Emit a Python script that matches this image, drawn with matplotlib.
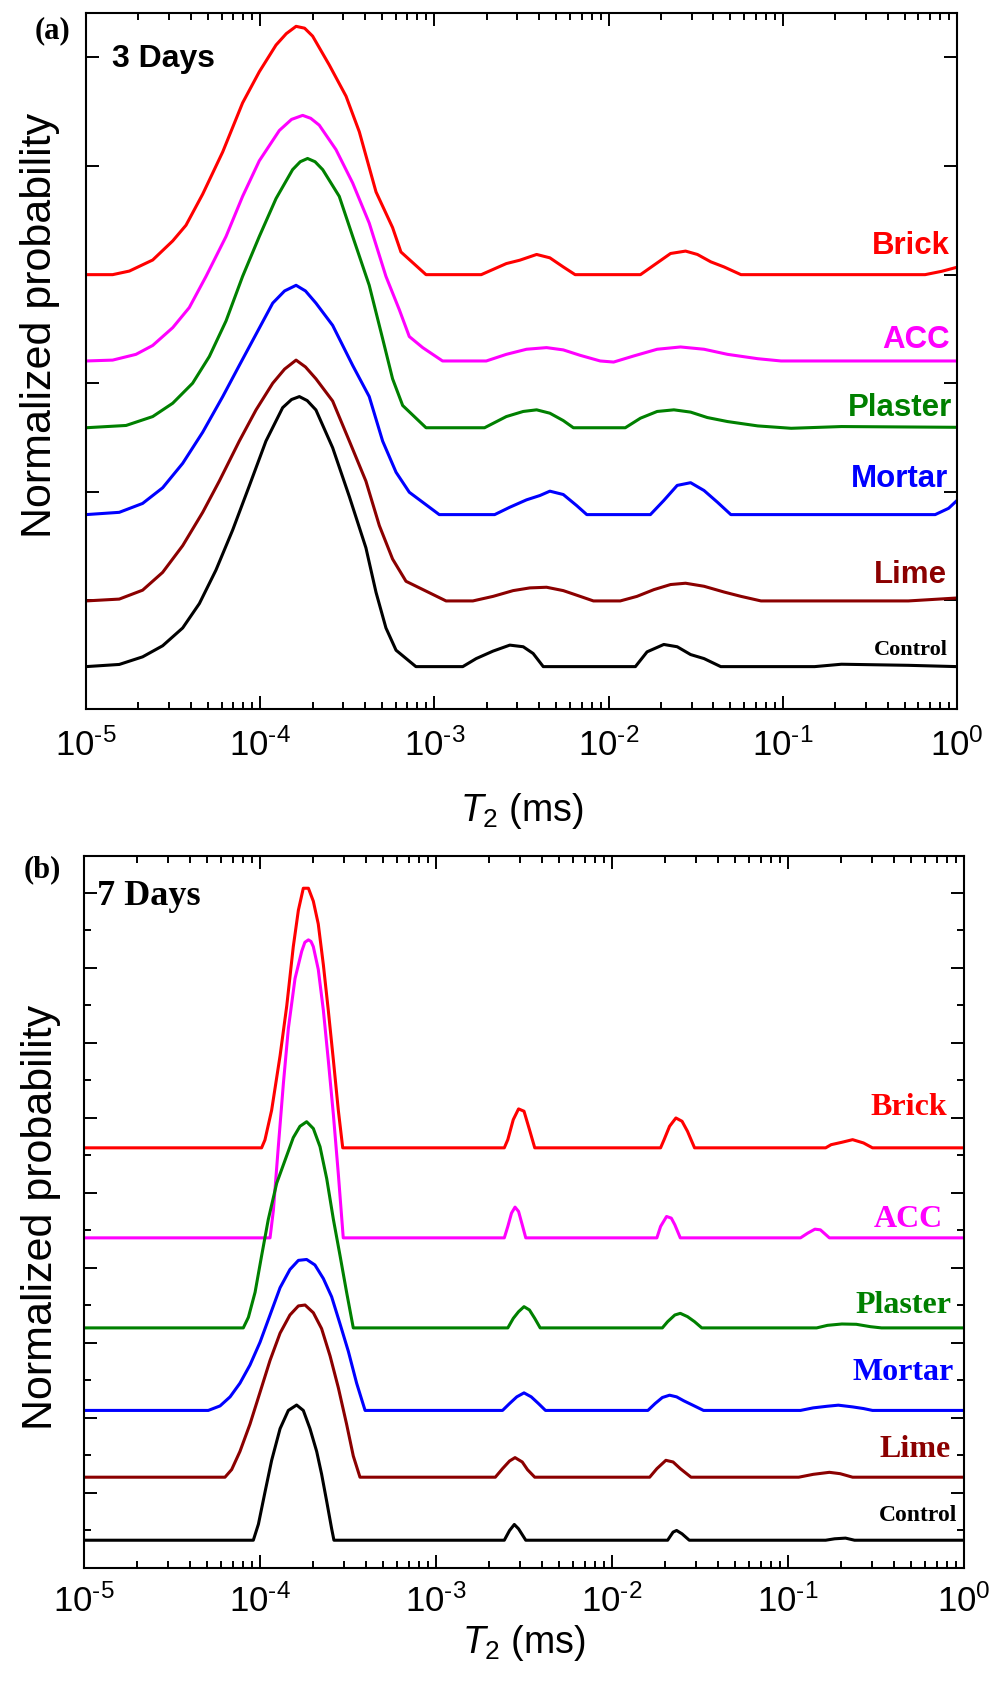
"""
T2 distribution curves, 3 days and 7 days
"""
import numpy as np
import matplotlib
matplotlib.use('Agg')
import matplotlib.pyplot as plt
from matplotlib.ticker import LogLocator, MultipleLocator, NullFormatter, NullLocator, FuncFormatter

plt.rcParams['font.family'] = 'Liberation Sans'
plt.rcParams['mathtext.fontset'] = 'custom'
plt.rcParams['mathtext.rm'] = 'Liberation Sans'
plt.rcParams['mathtext.it'] = 'Liberation Sans:italic'
plt.rcParams['mathtext.bf'] = 'Liberation Sans:bold'

materials = ['Brick', 'ACC', 'Plaster', 'Mortar', 'Lime', 'Control']
colors = ['#ff0000', '#ff00ff', '#008000', '#0000ff', '#8b0000', '#000000']

# ---- 3 days: log10(T2 / ms) and stacked probability ----
brick_3d_logt = [-5.0, -4.847, -4.751, -4.617, -4.502, -4.426, -4.330, -4.215, -4.101, -4.005,
                 -3.909, -3.85, -3.794, -3.745, -3.699, -3.603, -3.507, -3.431, -3.335, -3.240,
                 -3.192, -3.048, -2.731, -2.587, -2.510, -2.413, -2.337, -2.260, -2.192, -1.817,
                 -1.740, -1.644, -1.558, -1.490, -1.413, -1.337, -1.240, -0.183, -0.087, 0.0]
brick_3d_y = [4.0, 4.0, 4.033, 4.135, 4.311, 4.455, 4.742, 5.131, 5.582, 5.869,
              6.115, 6.22, 6.287, 6.27, 6.197, 5.930, 5.643, 5.316, 4.762, 4.434,
              4.209, 4.0, 4.0, 4.102, 4.133, 4.186, 4.155, 4.071, 4.0, 4.0,
              4.087, 4.195, 4.217, 4.186, 4.118, 4.071, 4.0, 4.0, 4.031, 4.068]

acc_3d_logt = [-5.0, -4.847, -4.713, -4.617, -4.502, -4.407, -4.311, -4.196, -4.101, -4.005,
               -3.890, -3.82, -3.756, -3.71, -3.661, -3.565, -3.469, -3.374, -3.278, -3.201,
               -3.144, -3.067, -2.953, -2.702, -2.587, -2.471, -2.356, -2.260, -2.163, -2.048,
               -1.971, -1.856, -1.721, -1.587, -1.452, -1.317, -1.144, -1.010, 0.0]
acc_3d_y = [3.205, 3.213, 3.266, 3.348, 3.512, 3.697, 3.984, 4.352, 4.721, 5.049,
            5.328, 5.43, 5.467, 5.44, 5.377, 5.152, 4.844, 4.475, 3.984, 3.676,
            3.430, 3.328, 3.205, 3.205, 3.266, 3.313, 3.328, 3.307, 3.257, 3.205,
            3.195, 3.251, 3.313, 3.334, 3.313, 3.266, 3.226, 3.205, 3.205]

plaster_3d_logt = [-5.0, -4.770, -4.617, -4.502, -4.388, -4.292, -4.196, -4.101, -4.005, -3.909,
                   -3.814, -3.77, -3.728, -3.685, -3.641, -3.546, -3.469, -3.374, -3.297, -3.240,
                   -3.182, -3.048, -2.712, -2.587, -2.490, -2.413, -2.337, -2.260, -2.202, -1.904,
                   -1.817, -1.721, -1.625, -1.529, -1.433, -1.317, -1.144, -0.952, -0.663, 0.0]
plaster_3d_y = [2.590, 2.611, 2.693, 2.816, 3.0, 3.246, 3.574, 3.984, 4.352, 4.701,
                4.967, 5.04, 5.070, 5.04, 4.967, 4.721, 4.352, 3.902, 3.410, 3.041,
                2.795, 2.590, 2.590, 2.693, 2.740, 2.755, 2.724, 2.656, 2.590, 2.590,
                2.678, 2.740, 2.755, 2.734, 2.684, 2.647, 2.607, 2.585, 2.601, 2.594]

mortar_3d_logt = [-5.0, -4.809, -4.675, -4.560, -4.445, -4.330, -4.215, -4.120, -4.024, -3.928,
                  -3.86, -3.794, -3.74, -3.680, -3.584, -3.469, -3.374, -3.297, -3.220, -3.144,
                  -2.972, -2.654, -2.567, -2.471, -2.394, -2.337, -2.260, -2.183, -2.125, -1.760,
                  -1.683, -1.606, -1.529, -1.452, -1.375, -1.298, -0.125, -0.048, 0.0]
mortar_3d_y = [1.79, 1.811, 1.893, 2.037, 2.262, 2.549, 2.877, 3.164, 3.451, 3.738,
               3.85, 3.902, 3.85, 3.738, 3.533, 3.164, 2.877, 2.467, 2.180, 1.996,
               1.79, 1.79, 1.858, 1.926, 1.966, 2.006, 1.975, 1.873, 1.79, 1.79,
               1.920, 2.059, 2.084, 2.012, 1.904, 1.79, 1.79, 1.848, 1.920]

lime_3d_logt = [-5.0, -4.809, -4.675, -4.560, -4.445, -4.330, -4.235, -4.120, -4.024, -3.928,
                -3.86, -3.794, -3.74, -3.680, -3.584, -3.488, -3.393, -3.316, -3.240, -3.163,
                -2.933, -2.779, -2.663, -2.548, -2.452, -2.356, -2.260, -2.163, -2.087, -1.933,
                -1.837, -1.740, -1.644, -1.558, -1.452, -1.337, -1.240, -1.125, -0.279, 0.0]
lime_3d_y = [0.995, 1.012, 1.094, 1.258, 1.504, 1.811, 2.098, 2.467, 2.754, 3.0,
             3.13, 3.213, 3.15, 3.041, 2.836, 2.467, 2.098, 1.689, 1.381, 1.176,
             0.995, 0.995, 1.037, 1.090, 1.115, 1.121, 1.090, 1.037, 0.995, 0.995,
             1.037, 1.099, 1.146, 1.158, 1.130, 1.077, 1.037, 0.995, 0.995, 1.022]

control_3d_logt = [-5.0, -4.809, -4.675, -4.560, -4.445, -4.349, -4.254, -4.158, -4.062, -3.967,
                   -3.871, -3.82, -3.775, -3.73, -3.680, -3.584, -3.488, -3.393, -3.335, -3.278,
                   -3.220, -3.106, -2.837, -2.760, -2.663, -2.567, -2.490, -2.433, -2.375, -1.846,
                   -1.779, -1.683, -1.606, -1.529, -1.452, -1.356, -0.817, -0.663, -0.279, 0.0]
control_3d_y = [0.39, 0.410, 0.480, 0.582, 0.746, 0.971, 1.279, 1.648, 2.057, 2.467,
                2.775, 2.85, 2.877, 2.84, 2.754, 2.406, 1.955, 1.484, 1.074, 0.746,
                0.541, 0.39, 0.39, 0.464, 0.533, 0.588, 0.573, 0.511, 0.39, 0.39,
                0.526, 0.594, 0.573, 0.501, 0.464, 0.39, 0.39, 0.412, 0.402, 0.39]

# ---- 7 days ----
brick_7d_logt = [-5.0, -3.991, -3.972, -3.934, -3.886, -3.848, -3.811, -3.782, -3.754, -3.725,
                 -3.697, -3.669, -3.640, -3.612, -3.583, -3.555, -3.530, -2.612, -2.592, -2.561,
                 -2.531, -2.500, -2.469, -2.439, -1.724, -1.704, -1.673, -1.637, -1.602, -1.571,
                 -1.531, -0.786, -0.755, -0.694, -0.633, -0.571, -0.520, 0.0]
brick_7d_y = [5.6, 5.6, 5.705, 6.10, 6.827, 7.493, 8.28, 8.767, 9.06, 9.06,
              8.887, 8.584, 8.039, 7.433, 6.767, 6.10, 5.6, 5.6, 5.709, 5.976,
              6.119, 6.088, 5.843, 5.6, 5.6, 5.709, 5.887, 5.998, 5.954, 5.820,
              5.6, 5.6, 5.642, 5.674, 5.709, 5.665, 5.6, 5.6]

acc_7d_logt = [-5.0, -3.943, -3.924, -3.896, -3.867, -3.839, -3.801, -3.763, -3.745, -3.725,
               -3.71, -3.697, -3.669, -3.640, -3.612, -3.583, -3.555, -3.527, -2.612, -2.592,
               -2.571, -2.551, -2.531, -2.510, -2.490, -1.745, -1.724, -1.690, -1.663, -1.643,
               -1.612, -0.929, -0.888, -0.847, -0.816, -0.765, 0.0]
acc_7d_y = [4.40, 4.40, 4.767, 5.615, 6.463, 7.19, 7.857, 8.22, 8.34, 8.372,
            8.35, 8.281, 7.979, 7.433, 6.767, 6.039, 5.251, 4.40, 4.40, 4.552,
            4.730, 4.810, 4.752, 4.574, 4.40, 4.40, 4.552, 4.685, 4.663, 4.574,
            4.40, 4.40, 4.463, 4.516, 4.507, 4.40, 4.40]

plaster_7d_logt = [-5.0, -4.095, -4.066, -4.028, -3.991, -3.953, -3.905, -3.858, -3.811, -3.773,
                   -3.735, -3.697, -3.659, -3.621, -3.583, -3.545, -3.508, -3.470, -2.592, -2.561,
                   -2.531, -2.500, -2.469, -2.439, -2.408, -1.714, -1.684, -1.643, -1.612, -1.571,
                   -1.531, -1.490, -0.837, -0.776, -0.694, -0.612, -0.531, -0.469, 0.0]
plaster_7d_y = [3.2, 3.2, 3.341, 3.675, 4.16, 4.645, 5.13, 5.433, 5.736, 5.887,
                5.948, 5.857, 5.615, 5.19, 4.645, 4.16, 3.675, 3.2, 3.2, 3.327,
                3.416, 3.483, 3.439, 3.327, 3.2, 3.2, 3.283, 3.372, 3.394, 3.350,
                3.283, 3.2, 3.2, 3.234, 3.252, 3.248, 3.216, 3.2, 3.2]

mortar_7d_logt = [-5.0, -4.294, -4.227, -4.170, -4.114, -4.057, -4.0, -3.943, -3.886, -3.830,
                  -3.782, -3.735, -3.688, -3.640, -3.593, -3.545, -3.498, -3.451, -3.403, -2.622,
                  -2.582, -2.541, -2.500, -2.459, -2.418, -2.378, -1.796, -1.755, -1.714, -1.673,
                  -1.633, -1.592, -1.541, -1.480, -0.929, -0.857, -0.776, -0.714, -0.633, -0.571,
                  -0.520, 0.0]
mortar_7d_y = [2.10, 2.10, 2.16, 2.281, 2.463, 2.705, 3.008, 3.372, 3.736, 3.978,
               4.10, 4.112, 4.039, 3.857, 3.615, 3.251, 2.887, 2.463, 2.10, 2.10,
               2.192, 2.281, 2.334, 2.281, 2.192, 2.10, 2.10, 2.192, 2.272, 2.303,
               2.281, 2.228, 2.170, 2.10, 2.10, 2.134, 2.156, 2.170, 2.147, 2.125,
               2.10, 2.10]

lime_7d_logt = [-5.0, -4.199, -4.161, -4.114, -4.057, -4.0, -3.943, -3.886, -3.830, -3.782,
                -3.744, -3.697, -3.650, -3.602, -3.555, -3.508, -3.470, -3.432, -2.663, -2.622,
                -2.582, -2.551, -2.510, -2.480, -2.439, -1.786, -1.745, -1.694, -1.653, -1.612,
                -1.551, -0.939, -0.857, -0.765, -0.704, -0.633, 0.0]
lime_7d_y = [1.21, 1.21, 1.312, 1.553, 1.917, 2.341, 2.767, 3.13, 3.372, 3.493,
             3.505, 3.402, 3.19, 2.827, 2.403, 1.917, 1.493, 1.21, 1.21, 1.324,
             1.426, 1.471, 1.413, 1.310, 1.21, 1.21, 1.324, 1.435, 1.413, 1.324,
             1.21, 1.21, 1.248, 1.275, 1.257, 1.21, 1.21]

control_7d_logt = [-5.0, -4.038, -4.009, -3.972, -3.934, -3.886, -3.839, -3.792, -3.754, -3.716,
                   -3.678, -3.650, -3.621, -3.593, -3.580, -2.612, -2.582, -2.555, -2.531, -2.490,
                   -1.684, -1.653, -1.633, -1.602, -1.561, -0.786, -0.735, -0.673, -0.622, 0.0]
control_7d_y = [0.37, 0.37, 0.584, 1.008, 1.433, 1.857, 2.1, 2.172, 2.1, 1.857,
                1.553, 1.251, 0.887, 0.524, 0.37, 0.37, 0.5, 0.580, 0.522, 0.37,
                0.37, 0.478, 0.5, 0.455, 0.37, 0.37, 0.389, 0.398, 0.37, 0.37]

curves_3d = [(brick_3d_logt, brick_3d_y), (acc_3d_logt, acc_3d_y), (plaster_3d_logt, plaster_3d_y),
             (mortar_3d_logt, mortar_3d_y), (lime_3d_logt, lime_3d_y), (control_3d_logt, control_3d_y)]
curves_7d = [(brick_7d_logt, brick_7d_y), (acc_7d_logt, acc_7d_y), (plaster_7d_logt, plaster_7d_y),
             (mortar_7d_logt, mortar_7d_y), (lime_7d_logt, lime_7d_y), (control_7d_logt, control_7d_y)]

fig = plt.figure(figsize=(9.93, 16.86), dpi=100)
ax_a = fig.add_axes([0.0866, 0.5795, 0.8771, 0.4128])
ax_b = fig.add_axes([0.0846, 0.0700, 0.8862, 0.4223])


def decade_label(v, pos):
    # short hyphen in the exponent, as in the original figure
    n = int(round(np.log10(v)))
    if n < 0:
        return r'$10^{\text{-}%d}$' % (-n)
    return r'$10^{%d}$' % n


def draw_panel(ax, curves, ymax, label_pos, label_font, tick_pad, xlabel_pad):
    for (logt, y), c in zip(curves, colors):
        ax.plot(10.0 ** np.array(logt), y, color=c, lw=2.2, solid_joinstyle='round')

    ax.set_xscale('log')
    ax.set_xlim(1e-5, 1.0)
    ax.set_ylim(0, ymax)
    ax.xaxis.set_major_locator(LogLocator(base=10, numticks=10))
    ax.xaxis.set_minor_locator(LogLocator(base=10, subs=np.arange(2, 10), numticks=10))
    ax.xaxis.set_major_formatter(FuncFormatter(decade_label))
    ax.xaxis.set_minor_formatter(NullFormatter())

    ax.tick_params(which='both', direction='in', top=True, right=True, width=1.4, colors='black')
    ax.tick_params(which='major', length=9.5)
    ax.tick_params(which='minor', length=5)
    ax.tick_params(axis='y', labelleft=False)
    ax.tick_params(axis='x', which='major', labelsize=25, pad=tick_pad)
    for sp in ax.spines.values():
        sp.set_linewidth(1.5)

    ax.set_xlabel(r'$\mathit{T}_{2}$ (ms)', fontsize=27, labelpad=xlabel_pad)

    # material names at the right end of each curve
    for name, c, (xp, yp) in zip(materials, colors, label_pos):
        fam, size = label_font(name)
        ax.text(xp, yp, name, transform=ax.transAxes, ha='right', va='baseline',
                color=c, fontsize=size, fontweight='bold', family=fam)


# panel (a)
pos_a = [(0.992, 0.654), (0.992, 0.519), (0.995, 0.421), (0.990, 0.319), (0.989, 0.181), (0.990, 0.078)]
draw_panel(ax_a, curves_3d, 6.41, pos_a,
           lambda n: ('Liberation Serif', 16) if n == 'Control' else ('Liberation Sans', 22.5),
           tick_pad=14, xlabel_pad=20)
ax_a.yaxis.set_major_locator(MultipleLocator(1))
ax_a.yaxis.set_minor_locator(NullLocator())
ax_a.text(0.030, 0.934, '3 Days', transform=ax_a.transAxes, ha='left', va='center',
          fontsize=23, fontweight='bold')

# panel (b)
pos_b = [(0.981, 0.636), (0.976, 0.479), (0.986, 0.358), (0.988, 0.264), (0.985, 0.156), (0.992, 0.066)]
draw_panel(ax_b, curves_7d, 9.49, pos_b,
           lambda n: ('Liberation Serif', 17) if n == 'Control' else ('Liberation Serif', 23),
           tick_pad=12, xlabel_pad=3)
ax_b.yaxis.set_major_locator(MultipleLocator(1))
ax_b.yaxis.set_minor_locator(MultipleLocator(0.5))
ax_b.text(0.015, 0.9424, '7 Days', transform=ax_b.transAxes, ha='left', va='center',
          fontsize=26, fontweight='bold', family='Liberation Serif')

# y labels and panel tags
fig.text(0.040, 0.807, 'Normalized probability', rotation=90, ha='center', va='center', fontsize=31)
fig.text(0.041, 0.278, 'Normalized probability', rotation=90, ha='center', va='center', fontsize=31)
fig.text(0.0524, 0.9816, '(a)', ha='center', va='center', fontsize=22, fontweight='bold',
         family='Liberation Serif')
fig.text(0.0423, 0.484, '(b)', ha='center', va='center', fontsize=22, fontweight='bold',
         family='Liberation Serif')

fig.savefig('out.png', dpi=100)
plt.close(fig)
